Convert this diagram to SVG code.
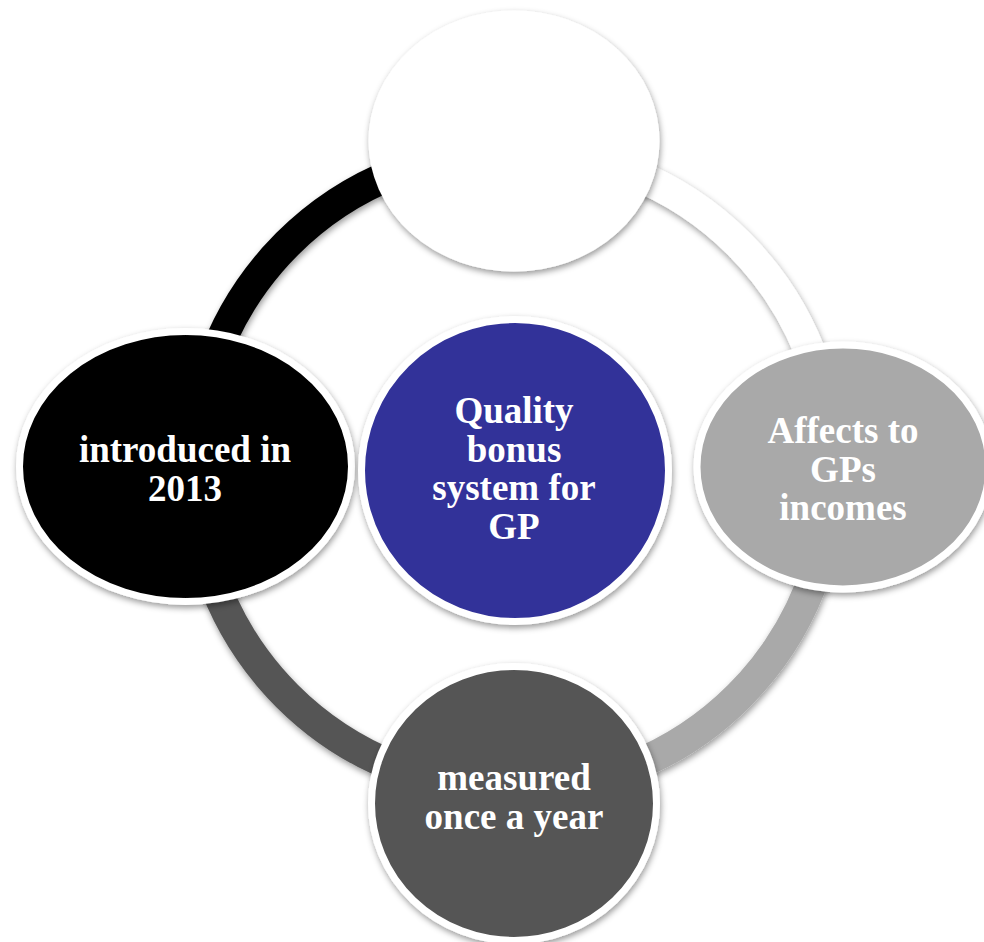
<svg xmlns="http://www.w3.org/2000/svg" width="984" height="942" viewBox="0 0 984 942">
<defs>
<filter id="sh" x="-20%" y="-20%" width="140%" height="140%">
<feDropShadow dx="1" dy="3" stdDeviation="3" flood-color="#000" flood-opacity="0.4"/>
</filter>
<style>
.arc{fill:none;stroke-width:31;filter:url(#sh)}
.node{stroke:#fff;stroke-width:7;filter:url(#sh)}
.lbl{font-family:"Liberation Serif","Times New Roman",serif;font-weight:bold;font-size:37px;fill:#fff;text-anchor:middle}
</style>
</defs>
<rect width="984" height="942" fill="#fff"/>
<g id="connectors">
<path class="arc" stroke="#000" d="M193.5,470 A319.5,319.5 0 0 1 513,150.5"/>
<path class="arc" stroke="#fff" d="M513,150.5 A319.5,319.5 0 0 1 832.5,470"/>
<path class="arc" stroke="#a9a9a9" d="M832.5,470 A319.5,319.5 0 0 1 513,789.5"/>
<path class="arc" stroke="#555555" d="M513,789.5 A319.5,319.5 0 0 1 193.5,470"/>
</g>
<g id="node-top">
<ellipse class="node" cx="514" cy="141" rx="142" ry="127" fill="#fff"/>
</g>
<g id="node-left">
<ellipse class="node" cx="185.5" cy="466.5" rx="166" ry="135" fill="#000"/>
<text class="lbl" x="185" y="462">introduced in</text>
<text class="lbl" x="185" y="500.5">2013</text>
</g>
<g id="node-right">
<ellipse class="node" cx="843" cy="467" rx="146" ry="122" fill="#a9a9a9"/>
<text class="lbl" x="843" y="443">Affects to</text>
<text class="lbl" x="843" y="481.5">GPs</text>
<text class="lbl" x="843" y="520">incomes</text>
</g>
<g id="node-bottom">
<ellipse class="node" cx="514" cy="803.5" rx="142.5" ry="137" fill="#555555"/>
<text class="lbl" x="514" y="790">measured</text>
<text class="lbl" x="514" y="828.5">once a year</text>
</g>
<g id="node-center">
<ellipse class="node" cx="515" cy="470.5" rx="153.5" ry="151" fill="#333399"/>
<text class="lbl" x="514" y="423">Quality</text>
<text class="lbl" x="514" y="461.5">bonus</text>
<text class="lbl" x="514" y="500">system for</text>
<text class="lbl" x="514" y="538.5">GP</text>
</g>
</svg>
